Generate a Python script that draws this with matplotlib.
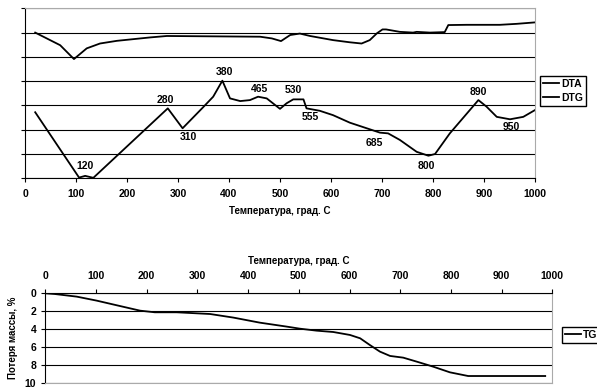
import matplotlib
matplotlib.use("Agg")
import matplotlib.pyplot as plt

plt.rcParams['font.family'] = ['Liberation Sans', 'DejaVu Sans']
plt.rcParams['font.weight'] = 'bold'

# DTA / DTG curves (arbitrary units, grid 0..7)
dta_t = [20, 69, 96, 121, 147, 180, 245, 278, 461, 484, 502, 520, 539, 559, 604,
         637, 660, 676, 690, 701, 708, 735, 761, 768, 794, 823, 830, 866, 931, 964, 1000]
dta_v = [6.0, 5.48, 4.91, 5.35, 5.55, 5.66, 5.80, 5.86, 5.83, 5.76, 5.65, 5.90, 5.96, 5.86, 5.69,
         5.60, 5.55, 5.69, 5.97, 6.13, 6.13, 6.03, 6.0, 6.03, 6.0, 6.02, 6.31, 6.32, 6.32, 6.36, 6.42]

dtg_t = [20, 106, 118, 134, 280, 309, 349, 369, 387, 402, 422, 441, 457, 474, 500, 513,
         526, 546, 552, 578, 604, 637, 670, 696, 712, 735, 768, 791, 804, 833, 889, 905,
         925, 951, 977, 1000]
dtg_v = [2.72, 0.03, 0.1, 0.02, 2.88, 2.06, 2.92, 3.36, 4.02, 3.29, 3.18, 3.22, 3.36, 3.29, 2.86, 3.09,
         3.25, 3.25, 2.88, 2.78, 2.60, 2.29, 2.06, 1.88, 1.85, 1.58, 1.09, 0.93, 1.0, 1.85, 3.22, 2.95,
         2.53, 2.43, 2.53, 2.81]

# peak labels: text, x, y
peak_txt = ['120', '280', '310', '380', '465', '530', '555', '685', '800', '890', '950']
peak_x = [118, 276, 320, 392, 459, 527, 559, 684, 786, 888, 953]
peak_y = [0.51, 3.22, 1.70, 4.37, 3.67, 3.63, 2.52, 1.45, 0.51, 3.55, 2.11]

# TG: mass loss, %
tg_t = [0, 19, 62, 101, 147, 187, 216, 259, 325, 371, 423, 476, 502, 535, 568, 601,
        621, 640, 660, 680, 706, 733, 765, 798, 834, 986]
tg_v = [0, 0.08, 0.37, 0.81, 1.41, 1.93, 2.11, 2.11, 2.30, 2.70, 3.26, 3.70, 3.93, 4.15, 4.30, 4.63,
        5.0, 5.74, 6.48, 6.96, 7.15, 7.6, 8.15, 8.78, 9.19, 9.19]

xlabel = 'Температура, град. С'
fs = 7.5

W, H = 597, 389
fig = plt.figure(figsize=(W / 100, H / 100), dpi=100)

# ---- top chart
ax1 = fig.add_axes([25 / W, 1 - 178.3 / H, 510 / W, 170 / H])
ax1.plot(dta_t, dta_v, color='black', lw=1.3, label='DTA')
ax1.plot(dtg_t, dtg_v, color='black', lw=1.3, label='DTG')
for s, x, y in zip(peak_txt, peak_x, peak_y):
    ax1.text(x, y, s, ha='center', va='center', fontsize=fs, fontweight='bold')
ax1.set_xlim(0, 1000)
ax1.set_ylim(0, 7)
ax1.set_xticks(range(0, 1001, 100))
ax1.set_yticks(range(0, 8))
ax1.set_yticklabels([])
ax1.grid(axis='y', color='black', lw=0.8)
ax1.tick_params(axis='both', direction='out', length=3, width=0.8, labelsize=fs, pad=5)
for lab in ax1.get_xticklabels():
    lab.set_fontweight('bold')
ax1.spines['top'].set_color('#aaaaaa')
ax1.spines['right'].set_color('#aaaaaa')
ax1.set_xlabel(xlabel, fontsize=7, fontweight='bold', labelpad=5)
ax1.legend(loc='upper left', bbox_to_anchor=(540 / W, 1 - 76 / H), bbox_transform=fig.transFigure,
           fancybox=False, edgecolor='black', framealpha=1, handlelength=1.5,
           handletextpad=0.2, borderpad=0.3, labelspacing=0.35, borderaxespad=0,
           prop={'weight': 'bold', 'size': fs})

# ---- bottom chart
ax2 = fig.add_axes([45.3 / W, 1 - 383.3 / H, 507 / W, 90 / H])
ax2.plot(tg_t, tg_v, color='black', lw=1.3, label='TG')
ax2.set_xlim(0, 1000)
ax2.set_ylim(10, 0)
ax2.set_xticks(range(0, 1001, 100))
ax2.set_yticks(range(0, 11, 2))
ax2.xaxis.tick_top()
ax2.xaxis.set_label_position('top')
ax2.grid(axis='y', color='black', lw=0.8)
ax2.tick_params(axis='both', direction='out', length=3, width=0.8, labelsize=fs)
ax2.tick_params(axis='x', pad=6)
for lab in ax2.get_xticklabels() + ax2.get_yticklabels():
    lab.set_fontweight('bold')
ax2.spines['bottom'].set_color('#aaaaaa')
ax2.spines['right'].set_color('#aaaaaa')
ax2.set_xlabel(xlabel, fontsize=7, fontweight='bold', labelpad=5)
ax2.set_ylabel('Потеря массы, %', fontsize=7, fontweight='bold', labelpad=5)
ax2.legend(loc='upper left', bbox_to_anchor=(562 / W, 1 - 327 / H), bbox_transform=fig.transFigure,
           fancybox=False, edgecolor='black', framealpha=1, handlelength=1.5,
           handletextpad=0.2, borderpad=0.3, borderaxespad=0,
           prop={'weight': 'bold', 'size': fs})

fig.savefig('out.png', dpi=100)
